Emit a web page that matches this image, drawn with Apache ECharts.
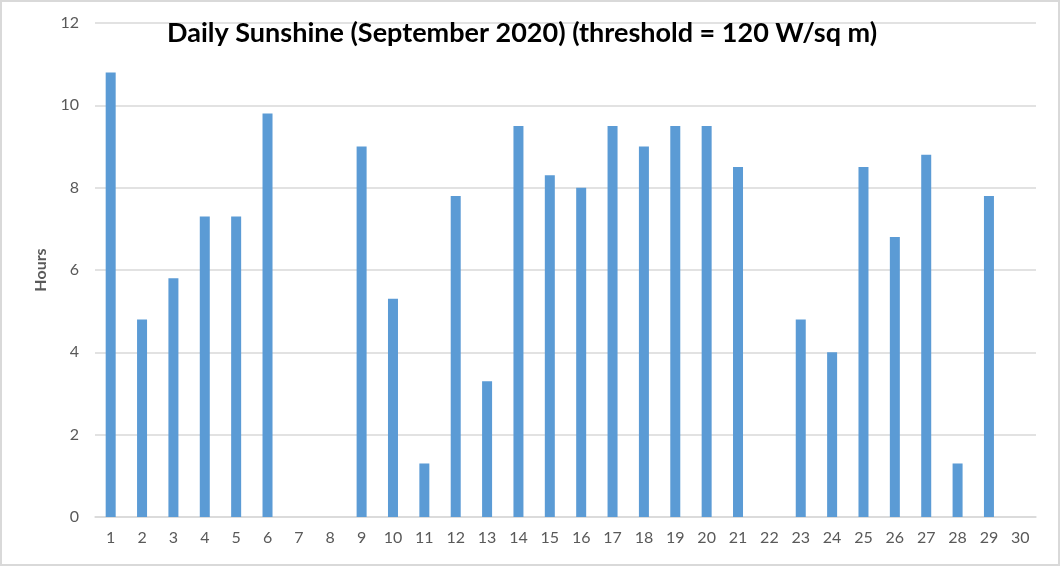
<!DOCTYPE html>
<html><head><meta charset="utf-8">
<script src="https://cdn.jsdelivr.net/npm/echarts@6/dist/echarts.min.js"></script>
<style>html,body{margin:0;padding:0;background:#fff}#c{width:1060px;height:566px;box-sizing:border-box;border:2px solid #d9d9d9}</style>
</head><body><div id="c"></div>
<script>
const days = ['1','2','3','4','5','6','7','8','9','10','11','12','13','14','15','16','17','18','19','20','21','22','23','24','25','26','27','28','29','30'];
const hours = [10.8,4.8,5.8,7.3,7.3,9.8,0,0,9.0,5.3,1.3,7.8,3.3,9.5,8.3,8.0,9.5,9.0,9.5,9.5,8.5,0,4.8,4.0,8.5,6.8,8.8,1.3,7.8,0];
const titleText = 'Daily Sunshine (September 2020) (threshold = 120 W/sq m)';
const yName = 'Hours';
const chart = echarts.init(document.getElementById('c'));
chart.setOption({
  animation:false,
  title:{text:titleText,left:160,top:13,textStyle:{fontFamily:'Lato',fontWeight:'bold',fontSize:27,color:'#000'}},
  grid:{left:93,right:22,top:21,bottom:47,containLabel:false},
  xAxis:{type:'category',data:days,axisTick:{show:false},axisLine:{lineStyle:{color:'#d9d9d9',width:1.5}},
    axisLabel:{color:'#595959',fontFamily:'Lato',fontSize:16,margin:13}},
  yAxis:{type:'value',min:0,max:12,interval:2,name:yName,nameLocation:'middle',nameGap:46,
    nameTextStyle:{color:'#595959',fontFamily:'Lato',fontWeight:'bold',fontSize:16},
    axisLine:{show:false},axisTick:{show:false},
    splitLine:{lineStyle:{color:'#d9d9d9',width:1.5}},
    axisLabel:{color:'#595959',fontFamily:'Lato',fontSize:16,margin:16}},
  series:[{type:'bar',data:hours,barWidth:10,itemStyle:{color:'#5b9bd5'}}]
});
</script></body></html>
